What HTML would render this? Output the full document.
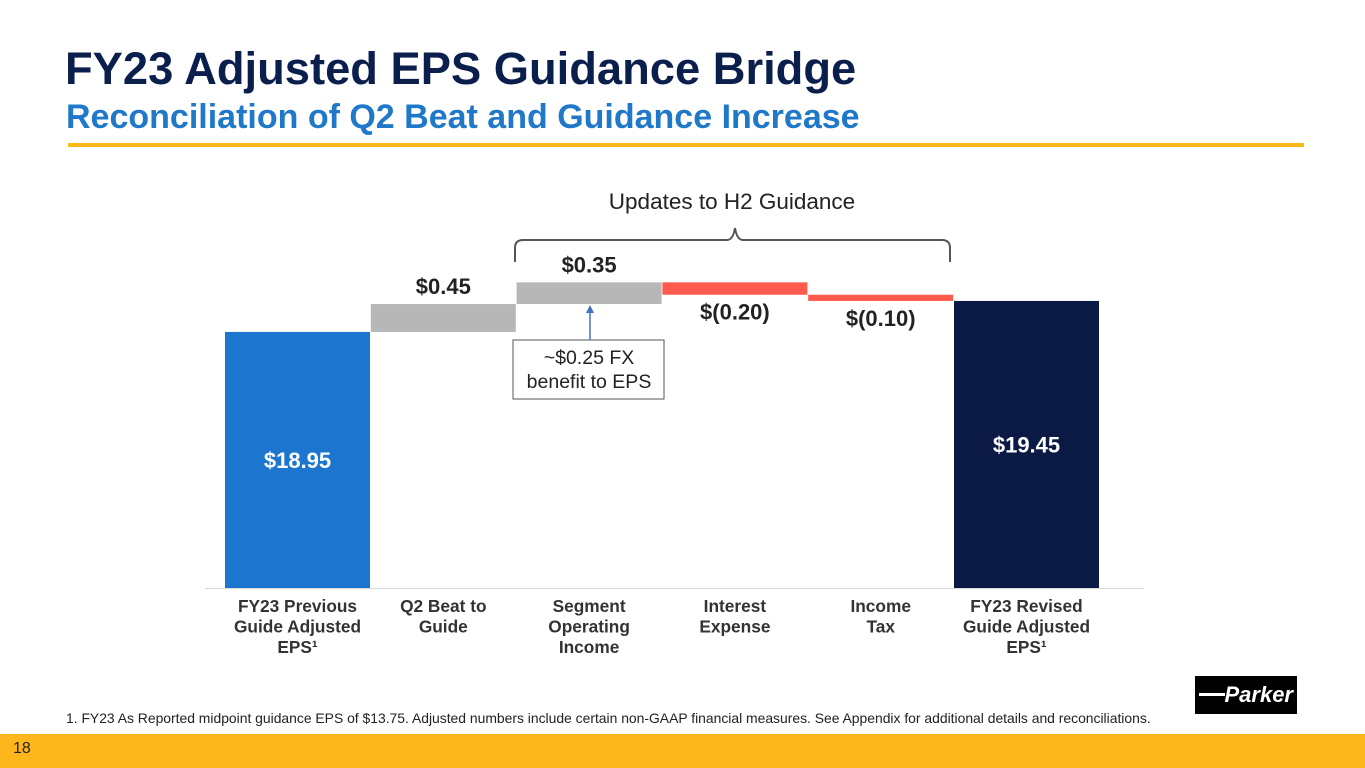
<!DOCTYPE html>
<html><head><meta charset="utf-8"><style>
body{margin:0;width:1365px;height:768px;position:relative;overflow:hidden;background:#fff;font-family:"Liberation Sans",Arial,sans-serif}
.t{position:absolute;white-space:nowrap}
</style></head><body>
<div class="t" style="left:65px;top:43px;font-size:45.3px;font-weight:bold;color:#0b1f4d">FY23 Adjusted EPS Guidance Bridge</div>
<div class="t" style="left:66px;top:98px;font-size:34px;font-weight:bold;color:#1f78c8">Reconciliation of Q2 Beat and Guidance Increase</div>
<div style="position:absolute;left:68px;top:143px;width:1236px;height:4px;background:#fbb917"></div>
<svg id="chart" width="1365" height="768" style="position:absolute;left:0;top:0" font-family="Liberation Sans, Arial, sans-serif">
<text x="732" y="209" font-size="22.5" fill="#222" text-anchor="middle">Updates to H2 Guidance</text>
<path d="M515 262 V248 Q515 240 523 240 H727 Q733 240 735 228 Q737 240 743 240 H942 Q950 240 950 248 V262" fill="none" stroke="#555" stroke-width="2"/>
<line x1="205" y1="588.5" x2="1144" y2="588.5" stroke="#d9d9d9"/>
<g id="marks"></g>
<rect x="513" y="340" width="151" height="59" fill="#fff" stroke="#555"/>
<text x="589" y="364" font-size="19.5" text-anchor="middle" fill="#222"><tspan x="589">~$0.25 FX</tspan><tspan x="589" dy="24">benefit to EPS</tspan></text>
<line x1="590" y1="340" x2="590" y2="312" stroke="#4472c4" stroke-width="1.5"/>
<path d="M586 313 L590 305 L594 313 Z" fill="#4472c4"/>
</svg>
<div class="t" style="left:66px;top:710px;font-size:13.9px;color:#222">1. FY23 As Reported midpoint guidance EPS of $13.75. Adjusted numbers include certain non-GAAP financial measures. See Appendix for additional details and reconciliations.</div>
<div style="position:absolute;left:1195px;top:676px;width:102px;height:38px;background:#000;color:#fff;font-weight:bold;font-size:22px;line-height:38px;text-align:right;padding-right:4px;box-sizing:border-box;font-style:italic">Parker<span style="position:absolute;left:4px;top:17px;width:26px;height:3px;background:#fff"></span></div>
<div style="position:absolute;left:0;top:734px;width:1365px;height:34px;background:#fdb71c"></div>
<div class="t" style="left:13px;top:740px;font-size:16px;color:#222">18</div>
<script>
const categories=[["FY23 Previous","Guide Adjusted","EPS¹"],["Q2 Beat to","Guide"],["Segment","Operating","Income"],["Interest","Expense"],["Income","Tax"],["FY23 Revised","Guide Adjusted","EPS¹"]];
const values=[18.95,0.45,0.35,-0.20,-0.10,19.45];
const kinds=["total","delta","delta","delta","delta","total"];
const labels=["$18.95","$0.45","$0.35","$(0.20)","$(0.10)","$19.45"];
const base=14.82,ppu=62,y0=588,x0=225,step=145.8,bw=145;
const y=v=>y0-(v-base)*ppu;
const ns="http://www.w3.org/2000/svg",g=document.getElementById("marks");
function mk(t,a){const e=document.createElementNS(ns,t);for(const k in a)e.setAttribute(k,a[k]);g.appendChild(e);return e;}
let run=0;
values.forEach((v,i)=>{
 const x=x0+i*step;let top,bot,fill;
 if(kinds[i]==="total"){top=y(v);bot=y0;fill=i===0?"#1c75cf":"#0a1a45";run=v;}
 else{const a=run,b=run+v;top=y(Math.max(a,b));bot=y(Math.min(a,b));fill=v>=0?"#b7b7b7":"#ff5a4e";run=b;}
 const r=mk("rect",{x:x,y:top,width:bw,height:bot-top,fill:fill});
 
 
 let ly;if(kinds[i]==="total")ly=(top+bot)/2+8;else if(v>=0)ly=top-10;else ly=bot+25;
 const t=mk("text",{x:x+bw/2,y:ly,"font-size":22,"font-weight":"bold","text-anchor":"middle",fill:kinds[i]==="total"?"#fff":"#222"});
 t.textContent=labels[i];
 
 
 const c=mk("text",{x:x+bw/2,y:612,"font-size":17.3,"font-weight":"bold","text-anchor":"middle",fill:"#333"});
 
 
 categories[i].forEach((l,j)=>{const s=document.createElementNS(ns,"tspan");s.setAttribute("x",x+bw/2);s.setAttribute("dy",j?20.5:0);s.textContent=l;c.appendChild(s);});
});
</script>
</body></html>
